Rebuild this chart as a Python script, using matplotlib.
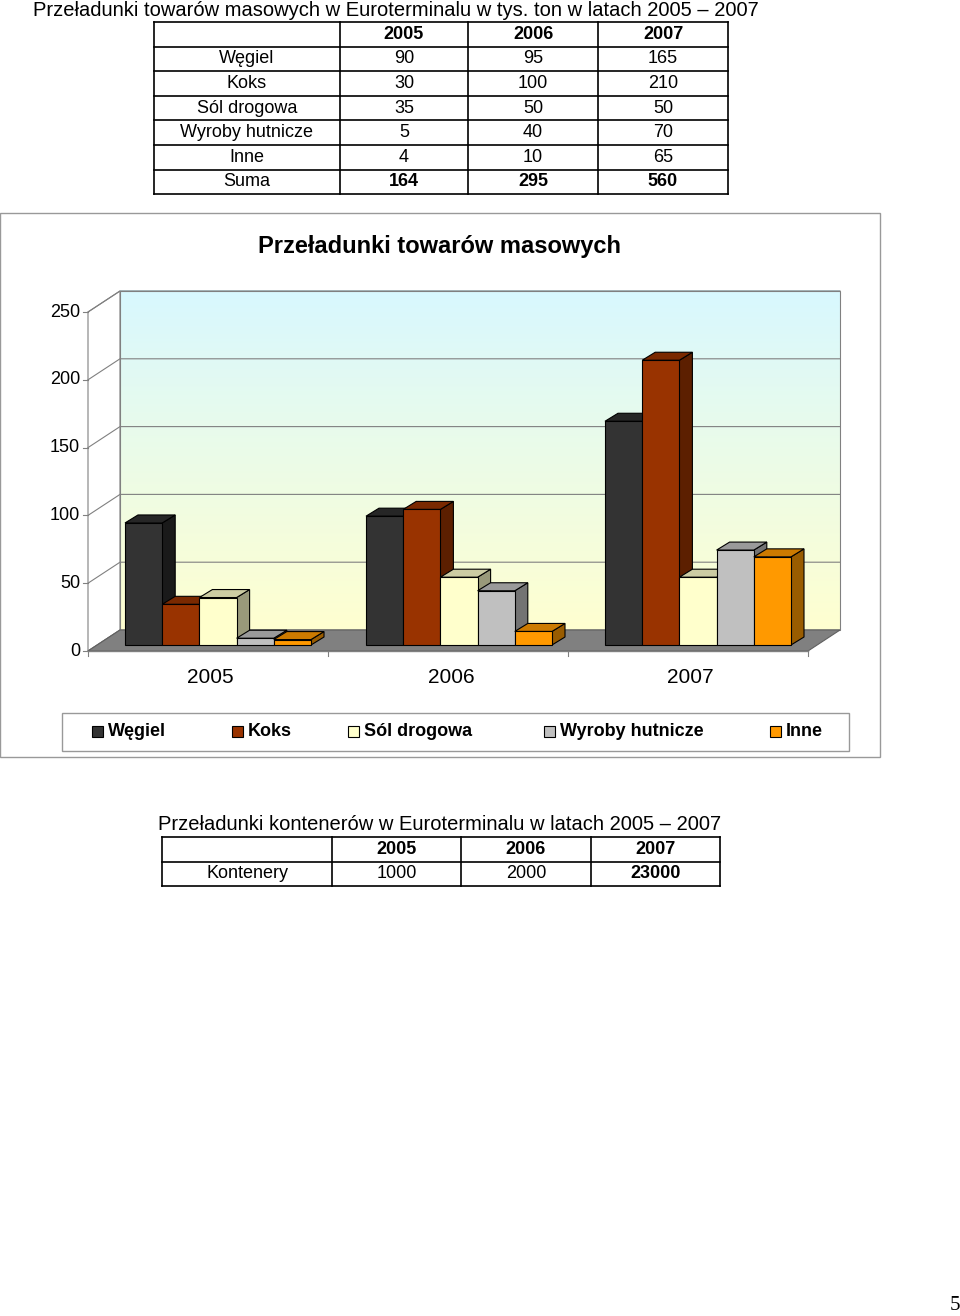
import matplotlib
matplotlib.use("Agg")
import matplotlib.pyplot as plt
from matplotlib.patches import Polygon, Rectangle
import numpy as np

years = ["2005", "2006", "2007"]
goods = ["Węgiel", "Koks", "Sól drogowa", "Wyroby hutnicze", "Inne"]
wegiel = [90, 95, 165]
koks = [30, 100, 210]
sol = [35, 50, 50]
wyroby = [5, 40, 70]
inne = [4, 10, 65]
suma = [164, 295, 560]
kontenery = [1000, 2000, 23000]
yticks = [0, 50, 100, 150, 200, 250]
series = [wegiel, koks, sol, wyroby, inne]
colors = ["#333333", "#993300", "#ffffcc", "#c0c0c0", "#ff9900"]
sides = ["#1a1a1a", "#5c1f00", "#99997a", "#737373", "#995c00"]
tops = ["#262626", "#7a2900", "#cccca3", "#9a9a9a", "#cc7a00"]

W, H = 960, 1316
fig = plt.figure(figsize=(W/100, H/100), dpi=100)
FONT = "Liberation Sans"
plt.rcParams["font.family"] = FONT

# page axes in pixel coordinates (tables, frames)
pg = fig.add_axes([0, 0, 1, 1])
pg.set_xlim(0, W); pg.set_ylim(H, 0); pg.axis("off")

def table(x_cols, y_rows):
    for x in x_cols:
        pg.plot([x, x], [y_rows[0], y_rows[-1]], color="k", lw=1.2)
    for y in y_rows:
        pg.plot([x_cols[0], x_cols[-1]], [y, y], color="k", lw=1.2)

pg.text(33, 10, "Przeładunki towarów masowych w Euroterminalu w tys. ton w latach 2005 – 2007",
        fontsize=14.5, va="center", ha="left")
xc = [154, 340, 468, 598, 728]
yr = [22 + 24.6*i for i in range(8)]
table(xc, yr)
rows = [[""] + years] + [[g] + [str(s[i]) for i in range(3)] for g, s in zip(goods, series)] \
       + [["Suma"] + [str(v) for v in suma]]
for r, row in enumerate(rows):
    yc = (yr[r] + yr[r+1]) / 2
    for c, txt in enumerate(row):
        bold = (r == 0 or (r == len(rows)-1 and c > 0))
        pg.text((xc[c]+xc[c+1])/2, yc, txt, ha="center", va="center", fontsize=13,
                fontweight="bold" if bold else "normal")

# chart frame
pg.add_patch(Rectangle((0, 213), 880, 544, fill=False, ec="#999999", lw=1))
pg.text(440, 246, "Przeładunki towarów masowych", ha="center", va="center",
        fontsize=17, fontweight="bold")

# chart axes: x in pixel-like units 0..720 over front floor, y in data
x0p, x1p, y0p, y250p = 88, 808, 651, 312
ax = fig.add_axes([x0p/W, 1 - y0p/H, (x1p-x0p)/W, (y0p-y250p)/H])
ax.set_xlim(0, 720); ax.set_ylim(0, 250); ax.axis("off")
u = 250 / (y0p - y250p)          # data units per pixel
DX, DY = 32, 21*u                 # wall depth
# back wall gradient
grad = np.linspace(0, 1, 256).reshape(-1, 1)
from matplotlib.colors import LinearSegmentedColormap
cm = LinearSegmentedColormap.from_list("w", ["#ffffd0", "#d8f8ff"])
ax.imshow(grad, cmap=cm, extent=[DX, 720+DX, DY, 250+DY], origin="lower",
          aspect="auto", clip_on=False, zorder=0)
ax.add_patch(Polygon([[0, 0], [DX, DY], [DX, 250+DY], [0, 250]], closed=True,
                     fc="white", ec="#808080", lw=0.8, clip_on=False, zorder=1))
ax.add_patch(Rectangle((DX, DY), 720, 250, fill=False, ec="#808080", lw=0.8, clip_on=False, zorder=1))
for t in yticks:
    ax.plot([0, DX, 720+DX], [t, t+DY, t+DY], color="#808080", lw=0.8, clip_on=False, zorder=1)
    ax.plot([-5, 0], [t, t], color="#808080", lw=0.8, clip_on=False)
    ax.text(-8, t, str(t), ha="right", va="center", fontsize=13)
ax.add_patch(Polygon([[0, 0], [720, 0], [720+DX, DY], [DX, DY]], closed=True,
                     fc="#808080", ec="#606060", lw=0.8, clip_on=False, zorder=1))
ax.plot([0, 720], [0, 0], color="#808080", lw=1, clip_on=False)
for xx in [0, 240, 480, 720]:
    ax.plot([xx, xx], [0, -5*u], color="#808080", lw=0.8, clip_on=False)

group_start = [37, 278, 517]
bw = 37.2
base = 6*u
bdx, bdy = 13, 8*u
for gi in range(3):
    ax.text(group_start[gi] - 37 + 120 + 2, -26*u, years[gi], ha="center", va="center", fontsize=15)
    for si in range(5):
        v = series[si][gi]
        x = group_start[gi] + si*bw
        top = base + v
        ax.add_patch(Polygon([[x+bw, base], [x+bw+bdx, base+bdy], [x+bw+bdx, top+bdy], [x+bw, top]],
                             fc=sides[si], ec="k", lw=0.8, clip_on=False, zorder=3+si))
        ax.add_patch(Polygon([[x, top], [x+bw, top], [x+bw+bdx, top+bdy], [x+bdx, top+bdy]],
                             fc=tops[si], ec="k", lw=0.8, clip_on=False, zorder=3+si))
        ax.add_patch(Rectangle((x, base), bw, v, fc=colors[si], ec="k", lw=0.8,
                               clip_on=False, zorder=3+si))

# legend
pg.add_patch(Rectangle((62, 713), 787, 38, fill=False, ec="#999999", lw=1))
lx = [92, 232, 348, 544, 770]
for i, g in enumerate(goods):
    pg.add_patch(Rectangle((lx[i], 726), 11, 11, fc=colors[i], ec="k", lw=0.8))
    pg.text(lx[i] + 16, 731, g, ha="left", va="center", fontsize=13, fontweight="bold")

# table 2
pg.text(440, 824, "Przeładunki kontenerów w Euroterminalu w latach 2005 – 2007",
        ha="center", va="center", fontsize=14.5)
xc2 = [162, 332, 461, 591, 720]
yr2 = [837, 862, 886]
table(xc2, yr2)
for c, y in enumerate(years):
    pg.text((xc2[c+1]+xc2[c+2])/2, 849.5, y, ha="center", va="center", fontsize=13, fontweight="bold")
pg.text((xc2[0]+xc2[1])/2, 874, "Kontenery", ha="center", va="center", fontsize=13)
for c, v in enumerate(kontenery):
    pg.text((xc2[c+1]+xc2[c+2])/2, 874, str(v), ha="center", va="center", fontsize=13,
            fontweight="bold" if c == 2 else "normal")

pg.text(955, 1305, "5", ha="center", va="center", fontsize=15, family="Liberation Serif")

fig.savefig("out.png", dpi=100)
